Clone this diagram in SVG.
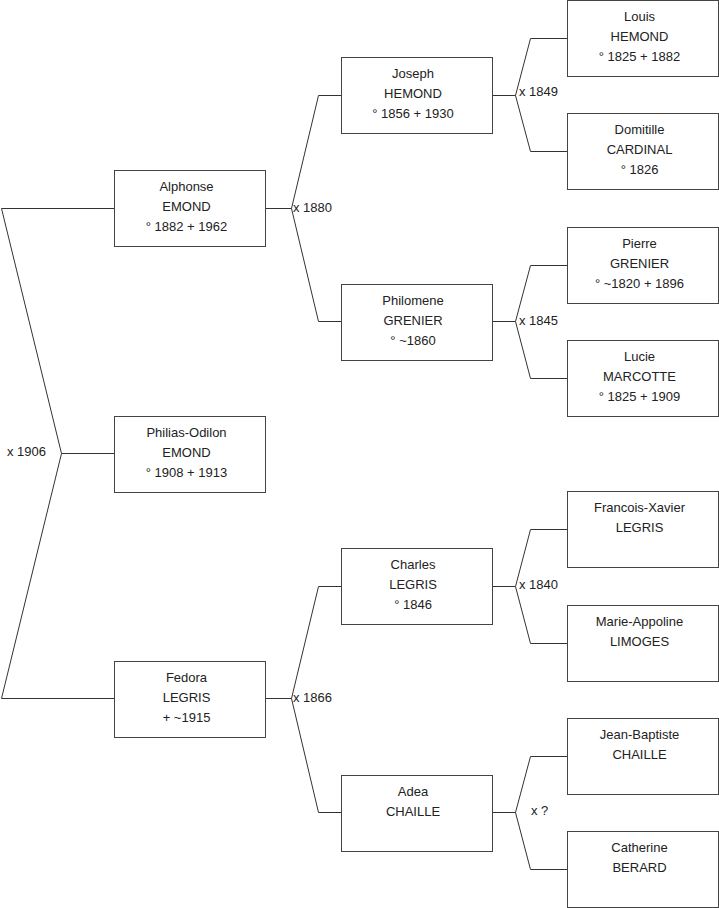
<svg xmlns="http://www.w3.org/2000/svg" width="719" height="908" viewBox="0 0 719 908">
<style>
.b{fill:#fff;stroke:#444;stroke-width:1}
.c{fill:none;stroke:#333;stroke-width:1}
text{font-family:"Liberation Sans",Arial,sans-serif;font-size:13px;fill:#222}
.n text{text-anchor:middle}
</style>
<rect width="719" height="908" fill="#fff"/>
<g id="connectors" class="c">
<path d="M114.5 208.5H1.5L61.5 453.5L1.5 698.5H114.5M61.5 453.5H114.5"/>
<path d="M265.5 208.5H291.5L318.5 95.5H341.5M291.5 208.5L318.5 321.5H341.5"/>
<path d="M265.5 698.5H291.5L318.5 586.5H341.5M291.5 698.5L318.5 812.5H341.5"/>
<path d="M492.5 95.5H515.5L530.5 38.5H567.5M515.5 95.5L530.5 151.5H567.5"/>
<path d="M492.5 321.5H515.5L530.5 265.5H567.5M515.5 321.5L530.5 378.5H567.5"/>
<path d="M492.5 586.5H515.5L530.5 529.5H567.5M515.5 586.5L530.5 643.5H567.5"/>
<path d="M492.5 812.5H515.5L530.5 756.5H567.5M515.5 812.5L530.5 869.5H567.5"/>
</g>
<g id="labels">
<text x="7" y="456">x 1906</text>
<text x="293" y="212">x 1880</text>
<text x="293" y="702">x 1866</text>
<text x="519" y="96">x 1849</text>
<text x="519" y="325">x 1845</text>
<text x="519" y="589">x 1840</text>
<text x="531" y="815">x ?</text>
</g>
<g id="alphonse" class="n"><rect class="b" x="114.5" y="170.5" width="151" height="76"/><text x="186.5" y="191">Alphonse</text><text x="186.5" y="211">EMOND</text><text x="186.5" y="231">° 1882 + 1962</text></g>
<g id="philias" class="n"><rect class="b" x="114.5" y="416.5" width="151" height="76"/><text x="186.5" y="437">Philias-Odilon</text><text x="186.5" y="457">EMOND</text><text x="186.5" y="477">° 1908 + 1913</text></g>
<g id="fedora" class="n"><rect class="b" x="114.5" y="661.5" width="151" height="76"/><text x="186.5" y="682">Fedora</text><text x="186.5" y="702">LEGRIS</text><text x="186.5" y="722">+ ~1915</text></g>
<g id="joseph" class="n"><rect class="b" x="341.5" y="57.5" width="151" height="76"/><text x="413" y="78">Joseph</text><text x="413" y="98">HEMOND</text><text x="413" y="118">° 1856 + 1930</text></g>
<g id="philomene" class="n"><rect class="b" x="341.5" y="284.5" width="151" height="76"/><text x="413" y="305">Philomene</text><text x="413" y="325">GRENIER</text><text x="413" y="345">° ~1860</text></g>
<g id="charles" class="n"><rect class="b" x="341.5" y="548.5" width="151" height="76"/><text x="413" y="569">Charles</text><text x="413" y="589">LEGRIS</text><text x="413" y="609">° 1846</text></g>
<g id="adea" class="n"><rect class="b" x="341.5" y="775.5" width="151" height="76"/><text x="413" y="796">Adea</text><text x="413" y="816">CHAILLE</text></g>
<g id="louis" class="n"><rect class="b" x="567.5" y="0.5" width="151" height="76"/><text x="639.5" y="21">Louis</text><text x="639.5" y="41">HEMOND</text><text x="639.5" y="61">° 1825 + 1882</text></g>
<g id="domitille" class="n"><rect class="b" x="567.5" y="113.5" width="151" height="76"/><text x="639.5" y="134">Domitille</text><text x="639.5" y="154">CARDINAL</text><text x="639.5" y="174">° 1826</text></g>
<g id="pierre" class="n"><rect class="b" x="567.5" y="227.5" width="151" height="76"/><text x="639.5" y="248">Pierre</text><text x="639.5" y="268">GRENIER</text><text x="639.5" y="288">° ~1820 + 1896</text></g>
<g id="lucie" class="n"><rect class="b" x="567.5" y="340.5" width="151" height="76"/><text x="639.5" y="361">Lucie</text><text x="639.5" y="381">MARCOTTE</text><text x="639.5" y="401">° 1825 + 1909</text></g>
<g id="francois" class="n"><rect class="b" x="567.5" y="491.5" width="151" height="76"/><text x="639.5" y="512">Francois-Xavier</text><text x="639.5" y="532">LEGRIS</text></g>
<g id="marie" class="n"><rect class="b" x="567.5" y="605.5" width="151" height="76"/><text x="639.5" y="626">Marie-Appoline</text><text x="639.5" y="646">LIMOGES</text></g>
<g id="jeanbaptiste" class="n"><rect class="b" x="567.5" y="718.5" width="151" height="76"/><text x="639.5" y="739">Jean-Baptiste</text><text x="639.5" y="759">CHAILLE</text></g>
<g id="catherine" class="n"><rect class="b" x="567.5" y="831.5" width="151" height="76"/><text x="639.5" y="852">Catherine</text><text x="639.5" y="872">BERARD</text></g>
</svg>
